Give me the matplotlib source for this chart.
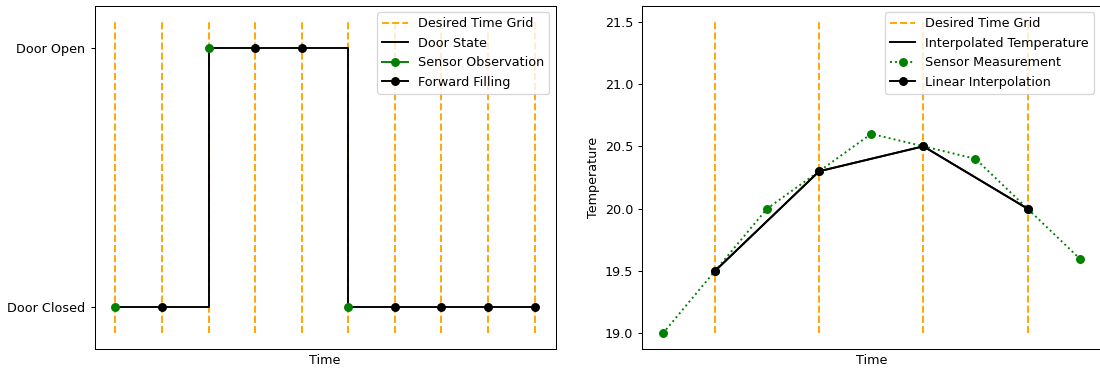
import matplotlib
matplotlib.use("Agg")
import matplotlib.pyplot as plt

# Left panel data
grid_left = [0, 1, 2, 3, 4, 5, 6, 7, 8, 9]
door_state = [0, 0, 1, 1, 1, 0, 0, 0, 0, 0]
obs_x = [0, 2, 5]
obs_y = [0, 1, 0]
ffill_x = [1, 3, 4, 6, 7, 8, 9]
ffill_y = [0, 1, 1, 0, 0, 0, 0]
door_ticks = [0, 1]
door_labels = ["Door Closed", "Door Open"]

# Right panel data
sensor_x = [0, 1, 2, 3, 4, 5, 6, 7, 8]
sensor_y = [19.0, 19.5, 20.0, 20.3, 20.6, 20.5, 20.4, 20.0, 19.6]
grid_right = [1, 3, 5, 7]
interp_y = [19.5, 20.3, 20.5, 20.0]

W, H = 1100, 372
DPI = 1100 / 12
fig = plt.figure(figsize=(12, H / DPI), dpi=DPI)

bottom = (H - 349) / H
height = 343 / H

ax1 = fig.add_axes([94.5 / W, bottom, 461 / W, height])
ax1.vlines(grid_left, -0.1, 1.1, colors="orange", linestyles="--", label="Desired Time Grid")
ax1.step(grid_left, door_state, where="post", color="black", label="Door State")
for i, (x, y) in enumerate(zip(obs_x, obs_y)):
    ax1.plot([x], [y], "o-", color="green", label="Sensor Observation" if i == 0 else None)
for i, (x, y) in enumerate(zip(ffill_x, ffill_y)):
    ax1.plot([x], [y], "o-", color="black", label="Forward Filling" if i == 0 else None)
ax1.set_yticks(door_ticks)
ax1.set_yticklabels(door_labels)
ax1.set_xticks([])
ax1.set_xlabel("Time")
ax1.legend(loc="upper right")

ax2 = fig.add_axes([642 / W, bottom, 458.5 / W, height])
ax2.vlines(grid_right, 19.0, 21.5, colors="orange", linestyles="--", label="Desired Time Grid")
ax2.plot(grid_right, interp_y, "-", color="black", label="Interpolated Temperature")
ax2.plot(sensor_x, sensor_y, "o:", color="green", label="Sensor Measurement")
ax2.plot(grid_right, interp_y, "o-", color="black", label="Linear Interpolation")
ax2.set_xticks([])
ax2.set_xlabel("Time")
ax2.set_ylabel("Temperature")
ax2.legend(loc="upper right")

fig.savefig("out.png", dpi=DPI)
